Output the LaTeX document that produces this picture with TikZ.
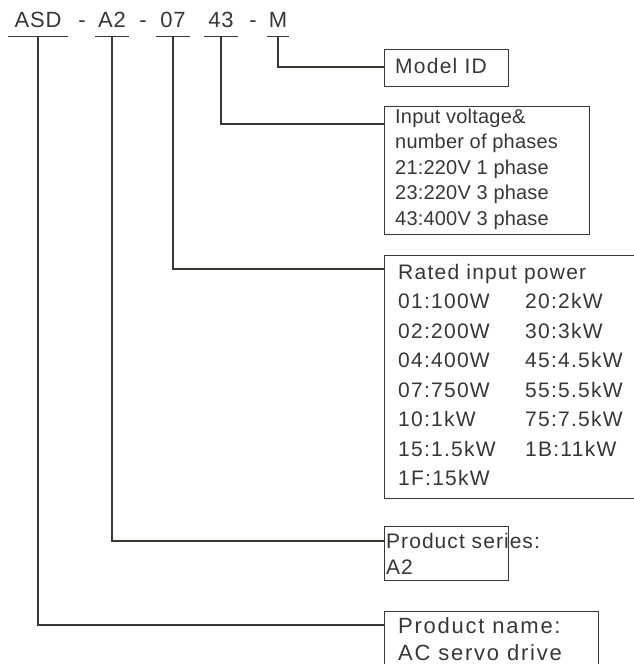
\documentclass[tikz,border=0pt]{standalone}
\usepackage{fontspec}
\setmainfont{Liberation Sans}
\usetikzlibrary{positioning}
\definecolor{ink}{HTML}{3A3633}
\definecolor{txtgray}{HTML}{363636}
\tikzset{wire/.style={ink, line width=1.3pt}}
\tikzset{code/.style={inner xsep=0pt, inner ysep=9pt, text depth=0pt, anchor=base, txtgray,
    font=\fontsize{22}{22}\selectfont\addfontfeatures{LetterSpace=4}}}
\tikzset{box/.style={draw=ink, line width=1.3pt, anchor=north west, inner sep=0pt}}
\tikzset{txt/.style={inner sep=0pt, anchor=north west, align=left, txtgray,
    font=\fontsize{21}{29.5}\selectfont\addfontfeatures{LetterSpace=6}}}

\begin{document}
\begin{tikzpicture}[x=1pt,y=1pt]
        \useasboundingbox (0,0) rectangle (633,-664);

        % model code
        \node[code, minimum width=60pt] (asd) at (38,-27) {ASD};
        \node[code] (d1) at (82,-27) {-};
        \node[code, minimum width=33pt] (ser) at (112,-27) {A2};
        \node[code] (d2) at (143,-27) {-};
        \node[code, minimum width=33pt] (pow) at (173,-27) {07};
        \node[code, minimum width=34pt] (vol) at (221,-27) {43};
        \node[code] (d3) at (253,-27) {-};
        \node[code, minimum width=22pt] (mod) at (278,-27) {M};

        \draw[wire] (asd.south west) -- (asd.south east);
        \draw[wire] (ser.south west) -- (ser.south east);
        \draw[wire] (pow.south west) -- (pow.south east);
        \draw[wire] (vol.south west) -- (vol.south east);
        \draw[wire] (mod.south west) -- (mod.south east);

        % boxes
        \node[box, minimum width=124pt, minimum height=37pt] (mid) at (384,-49) {};
        \node[box, minimum width=205pt, minimum height=128pt] (volt) at (384,-106) {};
        \node[box, minimum width=270pt, minimum height=243pt] (rated) at (384,-255) {};
        \node[box, minimum width=124pt, minimum height=54pt] (series) at (384,-526) {};
        \node[box, minimum width=214pt, minimum height=60pt] (pname) at (384,-611) {};

        \node[txt] (midtxt) at (395,-58) {Model ID};
        \node[txt, font=\fontsize{20}{25.5}\selectfont\addfontfeatures{LetterSpace=1}] (volttxt) at (395,-108.5)
            {Input voltage\&\\number of phases\\21:220V 1 phase\\23:220V 3 phase\\43:400V 3 phase};
        \node[txt] (ratedtxt) at (398,-264)
            {Rated input power\\
             \makebox[127pt][l]{01:100W}20:2kW\\
             \makebox[127pt][l]{02:200W}30:3kW\\
             \makebox[127pt][l]{04:400W}45:4.5kW\\
             \makebox[127pt][l]{07:750W}55:5.5kW\\
             \makebox[127pt][l]{10:1kW}75:7.5kW\\
             \makebox[127pt][l]{15:1.5kW}1B:11kW\\
             1F:15kW};
        \node[txt, font=\fontsize{21}{26}\selectfont\addfontfeatures{LetterSpace=5}] (seriestxt) at (386,-533)
            {Product series:\\A2};
        \node[txt, font=\fontsize{22}{27}\selectfont\addfontfeatures{LetterSpace=8}] (pnametxt) at (398,-617)
            {Product name:\\AC servo drive};

        % connectors
        \draw[wire] (mod.south) |- ([yshift=-18pt]mid.north west);
        \draw[wire] (vol.south) |- ([yshift=-18pt]volt.north west);
        \draw[wire] (pow.south) |- ([yshift=-14pt]rated.north west);
        \draw[wire] (ser.south) |- ([yshift=-15pt]series.north west);
        \draw[wire] (asd.south) |- ([yshift=-14pt]pname.north west);
\end{tikzpicture}
\end{document}
